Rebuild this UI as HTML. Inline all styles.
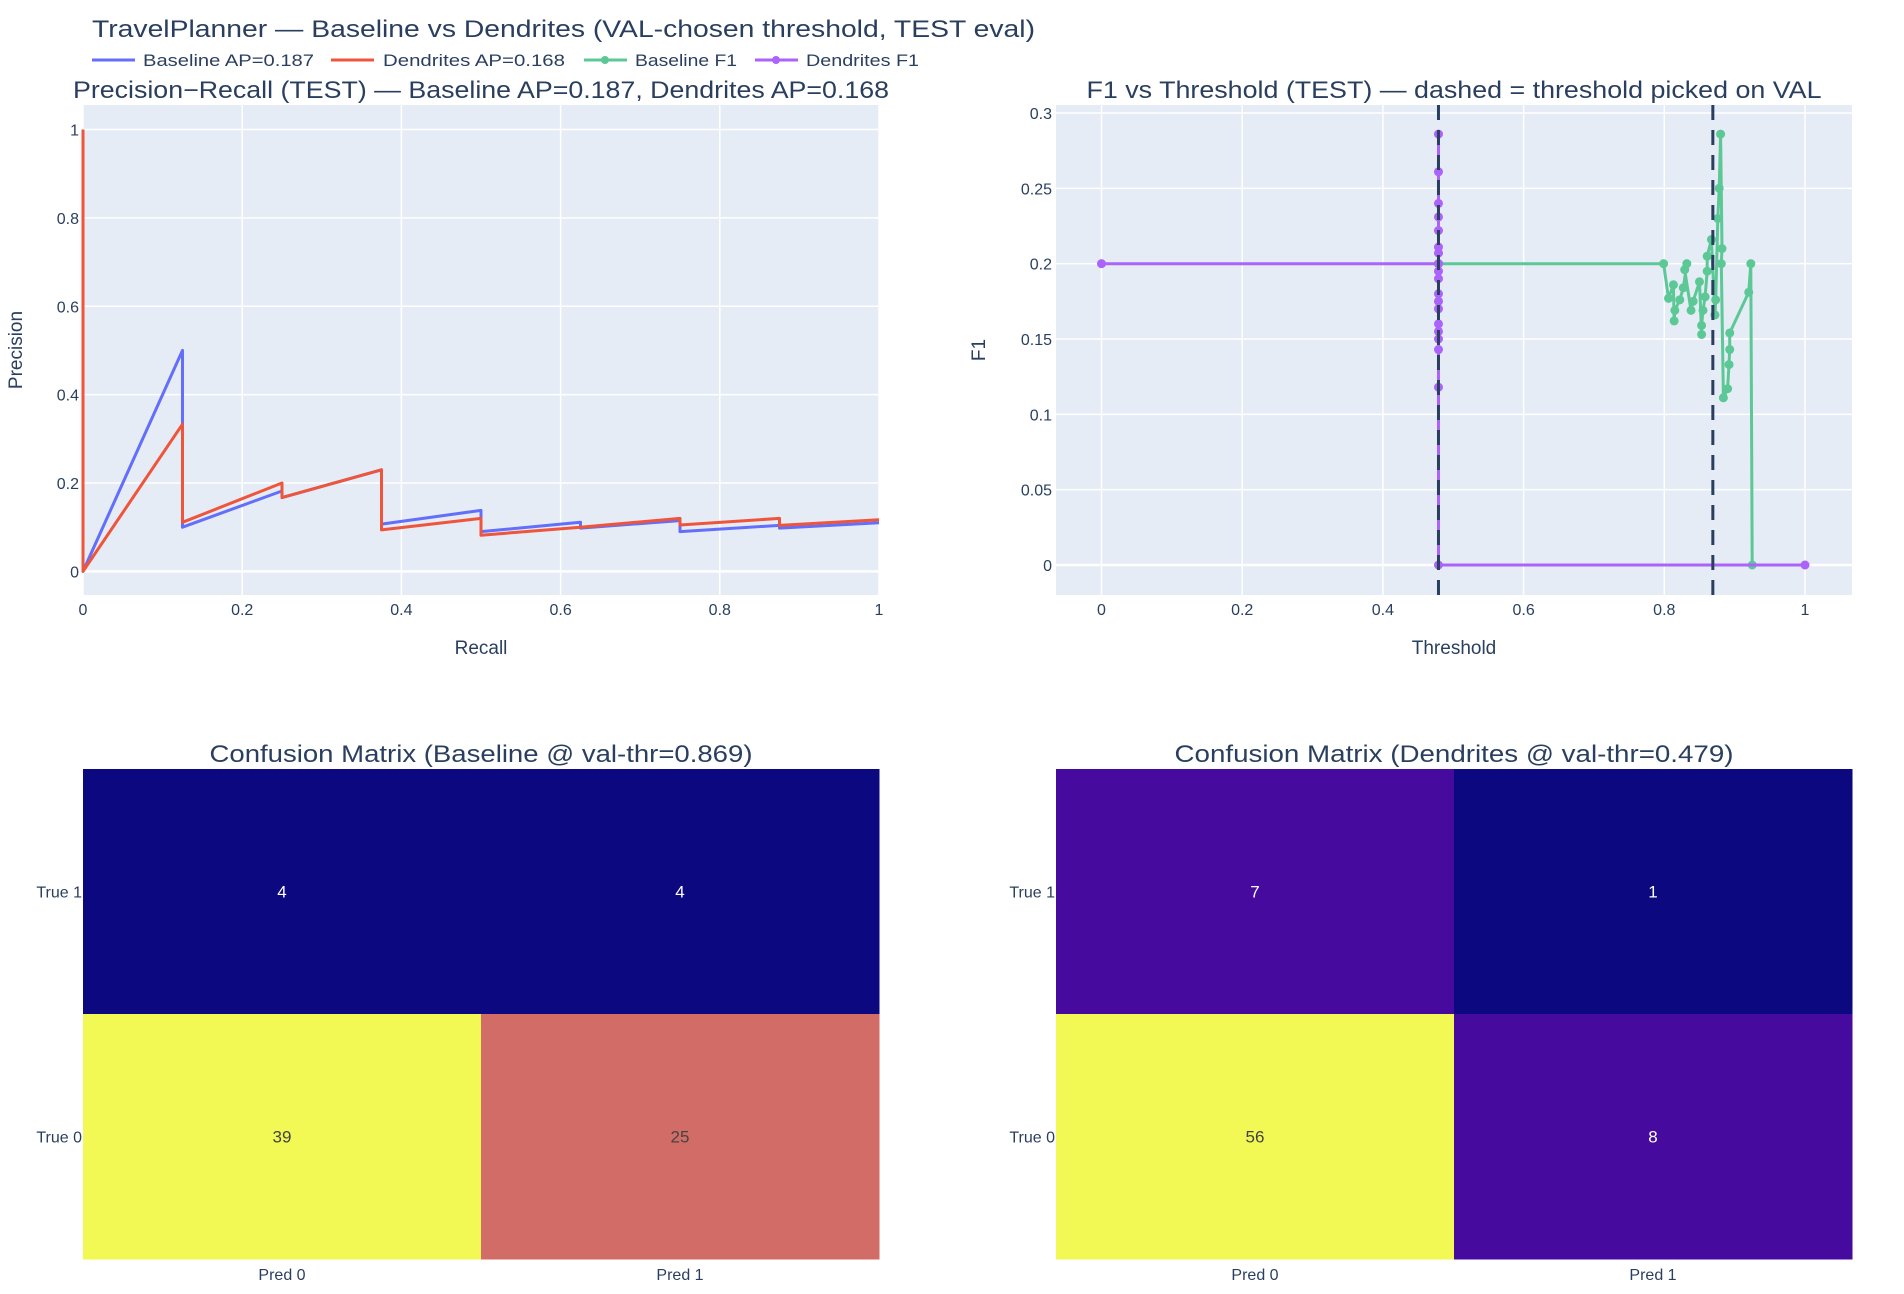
<!DOCTYPE html>
<html><head><meta charset="utf-8"><style>
html,body{margin:0;padding:0;background:#fff;}
svg{display:block;font-family:"Liberation Sans",Arial,sans-serif;}
</style></head><body>
<svg id="chart" width="1904" height="1294" viewBox="0 0 1904 1294" xmlns="http://www.w3.org/2000/svg">
<text x="92" y="37" font-size="24" fill="#2a3f5f" textLength="943" lengthAdjust="spacingAndGlyphs">TravelPlanner — Baseline vs Dendrites (VAL-chosen threshold, TEST eval)</text>
<g>
 <g><line x1="92" y1="60" x2="135" y2="60" stroke="#636efa" stroke-width="3"/><text x="143" y="66" font-size="17" fill="#2a3f5f" textLength="171" lengthAdjust="spacingAndGlyphs">Baseline AP=0.187</text></g>
 <g><line x1="331" y1="60" x2="374" y2="60" stroke="#EF553B" stroke-width="3"/><text x="383" y="66" font-size="17" fill="#2a3f5f" textLength="182" lengthAdjust="spacingAndGlyphs">Dendrites AP=0.168</text></g>
 <g><line x1="584" y1="60" x2="627" y2="60" stroke="#5cc896" stroke-width="3"/><circle cx="605" cy="60" r="4" fill="#5cc896"/><text x="635" y="66" font-size="17" fill="#2a3f5f" textLength="102" lengthAdjust="spacingAndGlyphs">Baseline F1</text></g>
 <g><line x1="755" y1="60" x2="798" y2="60" stroke="#ab63fa" stroke-width="3"/><circle cx="776" cy="60" r="4" fill="#ab63fa"/><text x="806" y="66" font-size="17" fill="#2a3f5f" textLength="113" lengthAdjust="spacingAndGlyphs">Dendrites F1</text></g>
</g>
<g id="pr"></g>
<g id="f1"></g>
<g id="cm"></g>
</svg>
<script>
// ---- PR data ----
const baseRecall = [0,0,0.125,0.125,0.25,0.25,0.375,0.375,0.5,0.5,0.625,0.625,0.75,0.75,0.875,0.875,1];
const basePrecision = [1,0,0.5,0.1,0.182,0.167,0.23,0.107,0.138,0.09,0.111,0.098,0.115,0.09,0.104,0.098,0.11];
const dendRecall = [0,0,0.125,0.125,0.25,0.25,0.375,0.375,0.5,0.5,0.625,0.75,0.75,0.875,0.875,1];
const dendPrecision = [1,0,0.333,0.111,0.2,0.167,0.23,0.094,0.12,0.082,0.1,0.12,0.105,0.12,0.104,0.117];
const prXTicks = [0,0.2,0.4,0.6,0.8,1];
const prYTicks = [0,0.2,0.4,0.6,0.8,1];
// ---- F1 data ----
const baseThr = [0.479,0.799,0.806,0.813,0.814,0.815,0.822,0.827,0.832,0.829,0.838,0.841,0.850,0.853,0.853,0.855,0.858,0.861,0.861,0.867,0.872,0.873,0.876,0.878,0.880,0.882,0.881,0.884,0.890,0.892,0.893,0.893,0.920,0.923,0.925];
const baseF1 = [0.2,0.2,0.177,0.186,0.162,0.169,0.176,0.184,0.2,0.196,0.169,0.175,0.188,0.153,0.159,0.169,0.178,0.195,0.205,0.216,0.166,0.176,0.230,0.250,0.286,0.210,0.2,0.111,0.117,0.133,0.143,0.154,0.181,0.2,0];
const dendThr = [0,0.479,0.479,0.479,0.479,0.479,0.479,0.479,0.479,0.479,0.479,0.479,0.479,0.479,0.479,0.479,0.479,0.479,0.479,0.479,0.479,1];
const dendF1 = [0.2,0.2,0.286,0.261,0.240,0.231,0.222,0.211,0.207,0.195,0.19,0.18,0.175,0.17,0.16,0.155,0.15,0.143,0.118,0.2,0,0];
const valThresholds = [0.479,0.869];
const f1XTicks = [0,0.2,0.4,0.6,0.8,1];
const f1YTicks = [0,0.05,0.1,0.15,0.2,0.25,0.3];
const f1YLabels = ["0","0.05","0.1","0.15","0.2","0.25","0.3"];
// ---- Confusion matrices ----
const cmRows = ["True 1","True 0"];
const cmCols = ["Pred 0","Pred 1"];
const cmBaseline = [[4,4],[39,25]];
const cmDendrites = [[7,1],[56,8]];

const NS="http://www.w3.org/2000/svg";
function mk(tag, attrs, parent){const e=document.createElementNS(NS,tag);for(const k in attrs)e.setAttribute(k,attrs[k]);parent.appendChild(e);return e;}
const TXT="#2a3f5f";
function scale(d0,d1,r0,r1){return v=>r0+(v-d0)/(d1-d0)*(r1-r0);}

function axesFrame(g,L,T,R,B,xs,ys,xt,yt,ylab,title,tx,xlabel,ylabelTxt,ylx){
  const bg=mk('rect',{x:L,y:T,width:R-L,height:B-T,fill:'#e5ecf6'},g);
  
  
  xt.forEach(v=>{const l=mk('line',{x1:xs(v),x2:xs(v),y1:T,y2:B,stroke:'#fff','stroke-width':1.5},g);
    
    const t=mk('text',{x:xs(v),y:B+20,'font-size':16,fill:TXT,'text-anchor':'middle'},g);t.textContent=String(v);
    });
  yt.forEach((v,i)=>{const l=mk('line',{x1:L,x2:R,y1:ys(v),y2:ys(v),stroke:'#fff','stroke-width':v===0?2.5:1.5},g);
    
    const t=mk('text',{x:L-4,y:ys(v)+6,'font-size':16,fill:TXT,'text-anchor':'end'},g);t.textContent=ylab?ylab[i]:String(v);
    });
  const ti=mk('text',{x:(L+R)/2,y:98,'font-size':24,fill:TXT,'text-anchor':'middle',textLength:tx,lengthAdjust:'spacingAndGlyphs'},g);ti.textContent=title;
  
  const xl=mk('text',{x:(L+R)/2,y:654,'font-size':19,fill:TXT,'text-anchor':'middle'},g);xl.textContent=xlabel;
  
  const yl=mk('text',{x:ylx,y:(T+B)/2,'font-size':19,fill:TXT,'text-anchor':'middle',transform:`rotate(-90 ${ylx} ${(T+B)/2})`},g);yl.textContent=ylabelTxt;
  
}
function pathD(xa,ya,xs,ys){return xa.map((x,i)=>(i?'L':'M')+xs(x).toFixed(1)+' '+ys(ya[i]).toFixed(1)).join(' ');}

// PR chart
(function(){
  const g=document.getElementById('pr');
  const L=83,R=879,T=105,B=595;
  const xs=scale(0,1,L,R), ys=scale(0,1,571.4,129.5);
  axesFrame(g,L,T,R,B,xs,ys,prXTicks,prYTicks,null,'Precision−Recall (TEST) — Baseline AP=0.187, Dendrites AP=0.168',816,'Recall','Precision',22);
  const p1=mk('path',{d:pathD(baseRecall,basePrecision,xs,ys),fill:'none',stroke:'#636efa','stroke-width':3,'stroke-linejoin':'round'},g);
  
  const p2=mk('path',{d:pathD(dendRecall,dendPrecision,xs,ys),fill:'none',stroke:'#EF553B','stroke-width':3,'stroke-linejoin':'round'},g);
  
})();

// F1 chart
(function(){
  const g=document.getElementById('f1');
  const L=1056,R=1852,T=105,B=595;
  const xs=scale(0,1,1101.5,1805), ys=scale(0,0.3,565,113);
  axesFrame(g,L,T,R,B,xs,ys,f1XTicks,f1YTicks,f1YLabels,'F1 vs Threshold (TEST) — dashed = threshold picked on VAL',735,'Threshold','F1',985);
  const p1=mk('path',{d:pathD(baseThr,baseF1,xs,ys),fill:'none',stroke:'#5cc896','stroke-width':3,'stroke-linejoin':'round'},g);
  
  baseThr.forEach((t,i)=>{const c=mk('circle',{cx:xs(t),cy:ys(baseF1[i]),r:4.5,fill:'#5cc896'},g);
    });
  const p2=mk('path',{d:pathD(dendThr,dendF1,xs,ys),fill:'none',stroke:'#ab63fa','stroke-width':3,'stroke-linejoin':'round'},g);
  
  dendThr.forEach((t,i)=>{const c=mk('circle',{cx:xs(t),cy:ys(dendF1[i]),r:4.5,fill:'#ab63fa'},g);
    });
  valThresholds.forEach(t=>{const l=mk('line',{x1:xs(t),x2:xs(t),y1:T,y2:B,stroke:'#2a3f5f','stroke-width':3,'stroke-dasharray':'15,10'},g);
    });
})();

// Confusion matrices
function cellColor(t){
  if(t<0.03) return '#0b0880';
  if(t<0.2) return t<0.1?'#420a9a':'#460b9e';
  if(t>0.9) return '#f2f854';
  return '#d26c66';
}
function drawCM(m,L,R,title,name,tl){
  const g=document.getElementById('cm');
  const T=769,B=1259,W=(R-L)/2,H=(B-T)/2;
  const flat=m.flat(),mn=Math.min(...flat),mx=Math.max(...flat);
  const ti=mk('text',{x:(L+R)/2,y:762,'font-size':24,fill:TXT,'text-anchor':'middle',textLength:tl,lengthAdjust:'spacingAndGlyphs'},g);ti.textContent=title;
  
  m.forEach((row,r)=>row.forEach((v,c)=>{
    const t=(v-mn)/(mx-mn);
    const rc=mk('rect',{x:L+c*W,y:T+r*H,width:W+0.5,height:H+0.5,fill:cellColor(t)},g);
    
    const tx=mk('text',{x:L+c*W+W/2,y:T+r*H+H/2+6,'font-size':17,fill:t>0.5?'#444':'#fff','text-anchor':'middle'},g);tx.textContent=v;
    
  }));
  cmRows.forEach((lab,r)=>{const t=mk('text',{x:L-1,y:T+r*H+H/2+6,'font-size':16,fill:TXT,'text-anchor':'end'},g);t.textContent=lab;
    });
  cmCols.forEach((lab,c)=>{const t=mk('text',{x:L+c*W+W/2,y:1280,'font-size':16,fill:TXT,'text-anchor':'middle'},g);t.textContent=lab;
    });
}
drawCM(cmBaseline,83,879,'Confusion Matrix (Baseline @ val-thr=0.869)','cm-baseline',543);
drawCM(cmDendrites,1056,1852,'Confusion Matrix (Dendrites @ val-thr=0.479)','cm-dendrites',559);
</script>
</body></html>
